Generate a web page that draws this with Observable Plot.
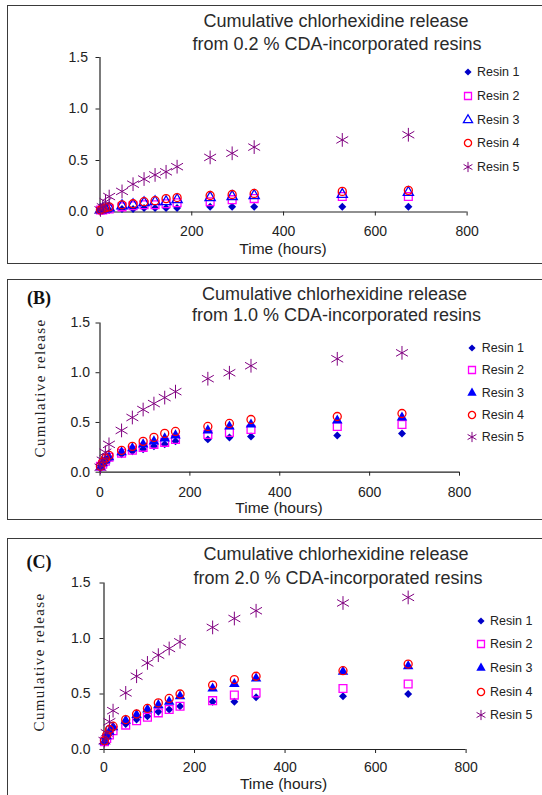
<!DOCTYPE html>
<html><head><meta charset="utf-8">
<script src="https://cdn.jsdelivr.net/npm/d3@7"></script>
<script src="https://cdn.jsdelivr.net/npm/@observablehq/plot@0.6"></script>
<style>
body{margin:0;background:#fff;}
#page{position:relative;width:542px;height:795px;overflow:hidden;font-family:"Liberation Sans",Arial,sans-serif;color:#222;}
.box{position:absolute;border:1.5px solid #3a3a3a;box-sizing:border-box;pointer-events:none;}
.c{position:absolute;white-space:nowrap;line-height:1;transform:translate(-50%,-50%);}
.l{position:absolute;white-space:nowrap;line-height:1;transform:translate(0,-50%);}
.svgwrap{position:absolute;left:0;}
.svgwrap svg{background:none !important;}
</style>
</head><body><div id="page"></div>
<script>
// ---- data ----
const hours = [1, 6, 12, 20, 48, 72, 96, 120, 144, 168, 240, 288, 336, 528, 672];
const seriesNames = ["Resin 1", "Resin 2", "Resin 3", "Resin 4", "Resin 5"];
const xTicks = [0, 200, 400, 600, 800];
const yTicks = [0, 0.5, 1.0, 1.5];

// 0.2 % CDA
const a_resin1 = [0.01,0.01,0.02,0.02,0.03,0.03,0.04,0.04,0.04,0.04,0.05,0.05,0.05,0.05,0.05];
const a_resin2 = [0.02,0.02,0.03,0.03,0.05,0.06,0.07,0.07,0.08,0.09,0.10,0.12,0.13,0.15,0.15];
const a_resin3 = [0.02,0.03,0.03,0.04,0.06,0.07,0.09,0.10,0.10,0.12,0.14,0.15,0.16,0.17,0.19];
const a_resin4 = [0.02,0.03,0.04,0.05,0.07,0.08,0.10,0.11,0.13,0.14,0.16,0.17,0.18,0.20,0.21];
const a_resin5 = [0.02,0.05,0.10,0.15,0.20,0.27,0.32,0.36,0.39,0.44,0.53,0.57,0.63,0.70,0.75];
// 1.0 % CDA
const b_resin1 = [0.04,0.07,0.10,0.13,0.18,0.21,0.23,0.26,0.28,0.31,0.33,0.35,0.36,0.37,0.39];
const b_resin2 = [0.06,0.08,0.11,0.15,0.19,0.22,0.25,0.28,0.30,0.33,0.38,0.40,0.43,0.46,0.48];
const b_resin3 = [0.05,0.09,0.12,0.15,0.20,0.24,0.28,0.31,0.34,0.37,0.42,0.46,0.48,0.52,0.55];
const b_resin4 = [0.06,0.10,0.14,0.17,0.22,0.26,0.31,0.35,0.39,0.41,0.46,0.49,0.53,0.56,0.59];
const b_resin5 = [0.05,0.12,0.20,0.28,0.42,0.55,0.63,0.69,0.75,0.81,0.94,1.00,1.07,1.14,1.20];
// 2.0 % CDA
const c_resin1 = [0.06,0.10,0.15,0.19,0.23,0.27,0.30,0.34,0.36,0.39,0.43,0.43,0.47,0.48,0.50];
const c_resin2 = [0.07,0.10,0.13,0.17,0.22,0.26,0.29,0.33,0.36,0.39,0.44,0.49,0.51,0.55,0.59];
const c_resin3 = [0.07,0.12,0.16,0.20,0.26,0.31,0.36,0.40,0.43,0.48,0.55,0.59,0.64,0.70,0.75];
const c_resin4 = [0.08,0.13,0.18,0.21,0.27,0.32,0.37,0.42,0.46,0.50,0.58,0.63,0.66,0.71,0.77];
const c_resin5 = [0.08,0.15,0.25,0.35,0.51,0.66,0.78,0.85,0.91,0.97,1.10,1.18,1.25,1.32,1.37];

const titles1 = ["Cumulative chlorhexidine release","Cumulative chlorhexidine release","Cumulative chlorhexidine release"];
const titles2 = ["from 0.2 % CDA-incorporated resins","from 1.0 % CDA-incorporated resins","from 2.0 % CDA-incorporated resins"];
const panelLetters = ["", "(B)", "(C)"];
const yLabel = "Cumulative release";
const xLabel = "Time (hours)";

// ---- styles per series ----
const styleA = [
  {symbol:"diamond2", fill:"#0000c8", stroke:"none", r:3.6, sw:1},
  {symbol:"square", fill:"none", stroke:"#ff00ff", r:4.4, sw:1.3},
  {symbol:"triangle", fill:"none", stroke:"#0000ff", r:3.8, sw:1.3},
  {symbol:"circle", fill:"none", stroke:"#ff0000", r:4, sw:1.3},
  {symbol:"asterisk", fill:"none", stroke:"#800080", r:6.5, sw:1}
];
const styleBC = styleA.map((s,i)=> i===2 ? {symbol:"triangle", fill:"#0000ff", stroke:"none", r:3.9, sw:1} : s);
const symMap = {diamond2:d3.symbolDiamond2, square:d3.symbolSquare, triangle:d3.symbolTriangle, circle:d3.symbolCircle, asterisk:d3.symbolAsterisk};

const panels = [
  {vals:[a_resin1,a_resin2,a_resin3,a_resin4,a_resin5], styles:styleA, top:5, h:258, mt:52, mb:51.5, ml:99.5, mr:75.4, xPad:10, yPad:8,
   box:{top:5,bottom:264}, t1:[336,21], t2:[337,44], xl:[283,248.5], letter:null, yl:null,
   leg:{mx:467.7, tx:477, rows:[71.7,96.3,120.3,143.3,167]}},
  {vals:[b_resin1,b_resin2,b_resin3,b_resin4,b_resin5], styles:styleBC, top:279, h:241, mt:43.5, mb:48.3, ml:99.5, mr:83, xPad:10.5, yPad:6,
   box:{top:279,bottom:520}, t1:[334.5,294], t2:[336.5,315], xl:[279,507.5], letter:[39,298], yl:[40,388],
   leg:{mx:472, tx:481.7, rows:[348.3,370.3,392.7,415,436.7]}},
  {vals:[c_resin1,c_resin2,c_resin3,c_resin4,c_resin5], styles:styleBC, top:538, h:257, mt:44.5, mb:46, ml:103.5, mr:76.4, xPad:9, yPad:9.5,
   box:{top:538,bottom:805}, t1:[336,554], t2:[338,578], xl:[283.6,783.5], letter:[39,562], yl:[39,662],
   leg:{mx:480.5, tx:490, rows:[621,644.3,667.7,691.7,715]}}
];

const page = document.getElementById("page");
function addText(cls, txt, x, y, css) {
  const d = document.createElement("div");
  d.className = cls; d.textContent = txt;
  d.style.left = x + "px"; d.style.top = y + "px";
  Object.assign(d.style, css || {});
  page.appendChild(d);
  return d;
}

panels.forEach((p, pi) => {
  const marks = [
    Plot.ruleY([0], {stroke:"#222", strokeWidth:1.2}),
    Plot.ruleX([0], {stroke:"#222", strokeWidth:1.2}),
    Plot.axisX({ticks:xTicks, tickSize:4, tickPadding:p.xPad, label:null, tickFormat:d=>String(d), stroke:"#222"}),
    Plot.axisY({ticks:yTicks, tickSize:4, tickPadding:p.yPad, label:null, tickFormat:d3.format(".1f"), stroke:"#222"})
  ];
  p.vals.forEach((vals, si) => {
    const s = p.styles[si];
    const data = hours.map((h, i) => ({h, v: vals[i]}));
    marks.push(Plot.dot(data, {x:"h", y:"v", symbol:s.symbol, r:s.r, fill:s.fill, stroke:s.stroke, strokeWidth:s.sw}));
  });
  const svg = Plot.plot({
    width:542, height:p.h,
    marginTop:p.mt, marginBottom:p.mb, marginLeft:p.ml, marginRight:p.mr,
    x:{domain:[0,800]}, y:{domain:[0,1.5]},
    style:{background:"none", fontSize:"14px", fontFamily:"'Liberation Sans', Arial, sans-serif", color:"#222", overflow:"visible"},
    marks
  });
  const wrap = document.createElement("div");
  wrap.className = "svgwrap"; wrap.style.top = p.top + "px";
  wrap.appendChild(svg);
  page.appendChild(wrap);

  const box = document.createElement("div");
  box.className = "box";
  box.style.left = "7px"; box.style.top = p.box.top + "px";
  box.style.width = "545px"; box.style.height = (p.box.bottom - p.box.top) + "px";
  page.appendChild(box);

  addText("c", titles1[pi], p.t1[0], p.t1[1], {fontSize:"18px", color:"#2a2a2a"});
  addText("c", titles2[pi], p.t2[0], p.t2[1], {fontSize:"18px", color:"#2a2a2a"});
  addText("c", xLabel, p.xl[0], p.xl[1], {fontSize:"15.5px", color:"#222"});
  if (p.letter) addText("c", panelLetters[pi], p.letter[0], p.letter[1], {fontSize:"18px", fontWeight:"bold", fontFamily:"'Liberation Serif', 'DejaVu Serif', serif", color:"#111"});
  if (p.yl) addText("c", yLabel, p.yl[0], p.yl[1], {fontSize:"15px", letterSpacing:"1.3px", fontFamily:"'Liberation Serif', 'DejaVu Serif', serif", color:"#222", transform:"translate(-50%,-50%) rotate(-90deg)"});

  // legend
  seriesNames.forEach((name, si) => {
    const s = p.styles[si];
    const y = p.leg.rows[si];
    const ns = "http://www.w3.org/2000/svg";
    const m = document.createElementNS(ns, "svg");
    m.setAttribute("width", 14); m.setAttribute("height", 14);
    m.style.position = "absolute"; m.style.left = (p.leg.mx - 7) + "px"; m.style.top = (y - 7) + "px";
    m.style.overflow = "visible";
    const path = document.createElementNS(ns, "path");
    const scale = s.symbol === "asterisk" ? 0.55 : 0.8;
    path.setAttribute("d", d3.symbol(symMap[s.symbol], Math.PI * s.r * s.r * scale)());
    path.setAttribute("transform", "translate(7,7)");
    path.setAttribute("fill", s.fill); path.setAttribute("stroke", s.stroke); path.setAttribute("stroke-width", s.sw);
    m.appendChild(path);
    page.appendChild(m);
    addText("l", name, p.leg.tx, y, {fontSize:"12.5px", color:"#222"});
  });
});
</script></body></html>
